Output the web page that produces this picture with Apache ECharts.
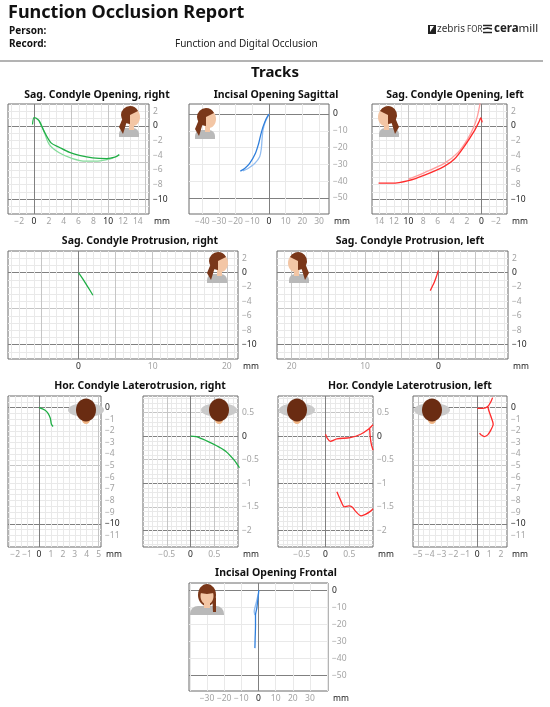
<!DOCTYPE html>
<html>
<head>
<meta charset="utf-8">
<script src="https://cdn.jsdelivr.net/npm/echarts@6/dist/echarts.min.js"></script>
<style>
html, body { margin: 0; padding: 0; background: #fff; }
#report { width: 550px; height: 707px; }
</style>
</head>
<body>
<div id="report"></div>
<script>
// ---- track data, [x mm, y mm] ----
var sagOpenRightA = [[-0.2,0.2],[0,1.15],[0.25,1.1],[0.7,0.7],[1.35,-0.7],[2.3,-2.3],[3.4,-2.9],[4.8,-3.6],[6.1,-4.0],[7.9,-4.35],[9.8,-4.45],[10.9,-4.25],[11.5,-3.9]];
var sagOpenRightB = [[0.7,0.7],[1.3,-0.6],[2.05,-2.5],[3.4,-3.65],[5.2,-4.45],[7.0,-4.8],[8.4,-4.8],[9.8,-4.6],[10.7,-4.35]];
var incSagA = [[0,0],[-1.6,-2.6],[-3.6,-7.6],[-5,-12.5],[-6.2,-17.5],[-8.2,-23.5],[-11.6,-29.4],[-14.6,-32.4],[-17.2,-34]];
var incSagB = [[0,0],[-2.2,-4.6],[-3.6,-9.5],[-4.2,-15.5],[-4.6,-20.5],[-5.6,-25.4],[-8.6,-29.4],[-12.6,-32.4],[-15.6,-33.8]];
var sagOpenLeftA = [[14.1,-7.8],[12.3,-7.8],[10,-7.45],[7.8,-6.7],[5.1,-5.5],[3.7,-4.5],[2.3,-2.7],[1.0,-0.7],[0.3,0.65],[0.1,1.1],[-0.1,0.5]];
var sagOpenLeftB = [[10,-7.25],[7.8,-6.35],[5.1,-5.1],[3.2,-3.6],[1.9,-1.8],[1.0,0],[0.55,1.35],[0.3,2.5],[0.2,3.1]];
var sagProtRight = [[0,0],[0.6,-0.9],[1.3,-2.05],[1.95,-3.15]];
var sagProtLeft = [[0,0.3],[0.23,-0.45],[0.55,-1.35],[1.1,-2.5]];
var latRightA = [[0,0],[0.48,-0.2],[0.76,-0.49],[0.95,-0.92],[1.04,-1.43],[1.18,-1.63]];
var latRightB = [[0,0],[0.12,-0.01],[0.34,-0.1],[0.56,-0.21],[0.74,-0.32],[0.92,-0.51],[1.03,-0.67]];
var latLeftA1 = [[0,0.04],[0.04,-0.05],[0.1,-0.11],[0.24,-0.06],[0.52,-0.03],[0.74,0.04],[0.91,0.15],[1.0,0.24]];
var latLeftA2 = [[0.93,0.16],[0.94,0.0],[0.96,-0.15],[1.0,-0.3]];
var latLeftA3 = [[0.24,-1.18],[0.31,-1.34],[0.4,-1.5],[0.49,-1.48],[0.56,-1.5],[0.63,-1.59],[0.75,-1.69],[0.84,-1.66],[0.95,-1.59],[1.0,-1.54]];
var latLeftB1 = [[0,-0.06],[0.47,-0.06],[0.88,0.09],[1.15,0.52],[1.29,0.86]];
var latLeftB2 = [[0.88,0.09],[1.0,-0.34],[1.15,-0.77],[1.34,-1.43],[1.15,-1.92],[0.88,-2.35],[0.6,-2.49],[0.33,-2.35],[0.19,-2.2]];
var incFrontA = [[0.2,0.4],[0,-1.6],[-0.4,-5.5],[-1,-10.4],[-1.75,-14.3],[-1.75,-21],[-1.95,-28],[-2.1,-33.8]];
var incFrontB = [[0,-1.6],[-1.4,-7.4],[-2.5,-12.3],[-2.1,-14.3]];

// ---- tick labels ----
var ticksSagX = [-2,0,2,4,6,8,10,12,14];
var ticksSagY = [2,0,-2,-4,-6,-8,-10];
var ticksIncX = [-40,-30,-20,-10,0,10,20,30];
var ticksIncY = [0,-10,-20,-30,-40,-50];
var ticksFrontX = [-30,-20,-10,0,10,20,30];
var ticksProtX = [0,10,20];
var ticksLatRX = [-2,-1,0,1,2,3,4,5];
var ticksLatLX = [-5,-4,-3,-2,-1,0,1,2];
var ticksLatY = [0,-1,-2,-3,-4,-5,-6,-7,-8,-9,-10,-11];
var ticksFineX = [-0.5,0,0.5];
var ticksFineY = [0.5,0,-0.5,-1,-1.5,-2];

var FONT = '"Noto Sans", "Open Sans", sans-serif';
var GREEN = '#1fae45', GREEN_L = '#86dc9c';
var RED = '#ff2b2b', RED_L = '#ff9c9c';
var BLUE = '#2f7fdc', BLUE_L = '#93bdf0';

var sagY = {min: -12, max: 3, step: 1, minor: 1, mid: 5, dark: [0, -10], labels: ticksSagY, bold: [0, -10]};
var latY = {min: -12, max: 1, step: 0.5, minor: 0.5, mid: 5, dark: [0, -10], labels: ticksLatY, bold: [0, -10]};
var fineY = {min: -2.35, max: 0.85, step: 0.05, minor: 0.1, mid: 0.5, dark: [0, -1, -2], labels: ticksFineY, bold: [0]};

var panels = [
    {box: [8, 104, 141, 110], lines: [[sagOpenRightB, GREEN_L], [sagOpenRightA, GREEN]],
     x: {min: -3.5, max: 15.5, step: 0.5, minor: 1, mid: 5, dark: [0], labels: ticksSagX, bold: [0, 10]}, y: sagY},
    {box: [189, 104, 140, 110], lines: [[incSagB, BLUE_L], [incSagA, BLUE]],
     x: {min: -48, max: 36, step: 1, minor: 10, mid: 0, dark: [0], labels: ticksIncX, bold: [0]},
     y: {min: -59.5, max: 6, step: 0.5, minor: 10, mid: 0, dark: [0, -50], labels: ticksIncY, bold: [0]}},
    {box: [372, 104, 135, 110], lines: [[sagOpenLeftB, RED_L], [sagOpenLeftA, RED]],
     x: {min: -3.5, max: 15, step: 0.5, minor: 1, mid: 5, dark: [0], labels: ticksSagX, bold: [0, 10], inverse: true}, y: sagY},
    {box: [8, 251, 230, 108], lines: [[sagProtRight, GREEN]],
     x: {min: -9.5, max: 21.5, step: 0.5, minor: 1, mid: 5, dark: [0], labels: ticksProtX, bold: [0]}, y: sagY},
    {box: [277, 251, 231, 108], lines: [[sagProtLeft, RED]],
     x: {min: -9.5, max: 22, step: 0.5, minor: 1, mid: 5, dark: [0], labels: ticksProtX, bold: [0], inverse: true}, y: sagY},
    {box: [8, 396, 93, 151], lines: [[latRightA, GREEN]],
     x: {min: -2.6, max: 5.2, step: 0.1, minor: 0.5, mid: 5, dark: [0], labels: ticksLatRX, bold: [0]}, y: latY},
    {box: [143, 396, 95, 151], lines: [[latRightB, GREEN]],
     x: {min: -1, max: 1, step: 0.1, minor: 0.1, mid: 0.5, dark: [0], labels: ticksFineX, bold: [0]}, y: fineY},
    {box: [278, 396, 95, 151], lines: [[latLeftA1, RED], [latLeftA2, RED], [latLeftA3, RED]],
     x: {min: -1, max: 1, step: 0.1, minor: 0.1, mid: 0.5, dark: [0], labels: ticksFineX, bold: [0]}, y: fineY},
    {box: [413, 396, 94, 151], lines: [[latLeftB1, RED], [latLeftB2, RED]],
     x: {min: -5.4, max: 2.5, step: 0.1, minor: 0.5, mid: 5, dark: [0], labels: ticksLatLX, bold: [0]}, y: latY},
    {box: [189, 583, 139, 108], lines: [[incFrontB, BLUE_L], [incFrontA, BLUE]],
     x: {min: -40.5, max: 40.5, step: 0.5, minor: 10, mid: 0, dark: [0], labels: ticksFrontX, bold: [0]},
     y: {min: -59, max: 4.5, step: 0.5, minor: 10, mid: 0, dark: [0, -50], labels: ticksIncY, bold: [0]}}
];

var titles = [
    ['Sag. Condyle Opening, right', 97, 95], ['Incisal Opening Sagittal', 276, 95],
    ['Sag. Condyle Opening, left', 455, 95], ['Sag. Condyle Protrusion, right', 140, 241],
    ['Sag. Condyle Protrusion, left', 410, 241], ['Hor. Condyle Laterotrusion, right', 140, 386],
    ['Hor. Condyle Laterotrusion, left', 410, 386], ['Incisal Opening Frontal', 276, 573]
];

function near(a, b) { return Math.abs(a - b) < 1e-6; }
function inList(v, list) {
    for (var i = 0; i < list.length; i++) { if (near(v, list[i])) return true; }
    return false;
}
function isMult(v, m) { if (!m) return false; var r = v / m; return Math.abs(r - Math.round(r)) < 1e-4; }

// one colour per tick (ticks start at min), millimetre paper look
function splitColors(ax) {
    var n = Math.round((ax.max - ax.min) / ax.step), out = [];
    for (var i = 0; i <= n; i++) {
        var v = ax.min + i * ax.step, c = 'rgba(0,0,0,0)';
        if (i > 0 && i < n) {
            if (inList(v, ax.dark)) c = '#808080';
            else if (isMult(v, ax.mid)) c = '#c6c6c6';
            else if (isMult(v, ax.minor)) c = '#e9e9e9';
        }
        out.push(c);
    }
    return out;
}
function labelFormatter(ax) {
    return function (v) {
        if (!inList(v, ax.labels)) return '';
        var s = String(Math.round(v * 100) / 100).replace('-', '\u2212');
        return inList(v, ax.bold) ? '{b|' + s + '}' : '{g|' + s + '}';
    };
}
function makeAxis(ax, gi, isX) {
    var a = {
        type: 'value', gridIndex: gi, min: ax.min, max: ax.max, interval: ax.step,
        inverse: !!ax.inverse, position: isX ? 'bottom' : 'right',
        axisLine: {show: false, onZero: false}, axisTick: {show: false},
        axisLabel: {
            margin: isX ? 3 : 4, formatter: labelFormatter(ax),
            rich: {
                b: {color: '#1a1a1a', fontSize: 8.5, fontFamily: FONT},
                g: {color: '#a3a3a3', fontSize: 8.5, fontFamily: FONT}
            }
        },
        splitLine: {show: true, lineStyle: {color: splitColors(ax), width: 1}}
    };
    if (isX) {
        a.name = 'mm';
        a.nameLocation = ax.inverse ? 'start' : 'end';
        a.nameGap = 5;
        a.nameTextStyle = {color: '#1a1a1a', fontSize: 8.5, fontFamily: FONT, verticalAlign: 'top', align: 'left', padding: [3, 0, 0, 0]};
    }
    return a;
}

// ---- little head pictograms ----
var SKIN = '#f3c6a5', HAIR = '#7a3719', CLOTH = '#b9b9b9';
function sideHead(x, y, faceLeft) {
    var s = faceLeft ? -1 : 1, c = x + 12;
    function px(d) { return c + s * d; }
    var a0 = faceLeft ? -0.85 * Math.PI : 0.5 * Math.PI;
    var a1 = faceLeft ? 0.5 * Math.PI : 1.85 * Math.PI;
    return {type: 'group', silent: true, z: 50, children: [
        {type: 'rect', z: 50, shape: {x: c - 10, y: y + 23, width: 20, height: 9, r: [6, 6, 0, 0]}, style: {fill: CLOTH}},
        {type: 'rect', z: 50, shape: {x: Math.min(px(0), px(5)), y: y + 15, width: 5, height: 10}, style: {fill: SKIN}},
        {type: 'polygon', z: 50, shape: {points: [[px(-5), y + 10], [px(-10), y + 22], [px(-6), y + 29], [px(-2), y + 16]]}, style: {fill: HAIR}},
        {type: 'ellipse', z: 50, shape: {cx: px(4), cy: y + 12, rx: 7, ry: 9}, style: {fill: SKIN}},
        {type: 'sector', z: 50, shape: {cx: px(1), cy: y + 10, r: 9, startAngle: a0, endAngle: a1, clockwise: true}, style: {fill: HAIR}}
    ]};
}
function topHead(cx, cy) {
    return {type: 'group', silent: true, z: 50, children: [
        {type: 'ellipse', z: 50, shape: {cx: cx, cy: cy, rx: 18, ry: 7}, style: {fill: '#cacaca'}},
        {type: 'ellipse', z: 50, shape: {cx: cx, cy: cy + 10, rx: 4, ry: 4}, style: {fill: '#f0b584'}},
        {type: 'ellipse', z: 50, shape: {cx: cx, cy: cy, rx: 10, ry: 11.5}, style: {fill: '#6a2c12'}}
    ]};
}
function frontHead(cx, y) {
    return {type: 'group', silent: true, z: 50, children: [
        {type: 'rect', z: 50, shape: {x: cx - 17, y: y + 22, width: 34, height: 9, r: [8, 8, 0, 0]}, style: {fill: CLOTH}},
        {type: 'ellipse', z: 50, shape: {cx: cx, cy: y + 11, rx: 9, ry: 11}, style: {fill: HAIR}},
        {type: 'polygon', z: 50, shape: {points: [[cx + 5, y + 10], [cx + 9, y + 14], [cx + 9, y + 28], [cx + 6, y + 28]]}, style: {fill: HAIR}},
        {type: 'rect', z: 50, shape: {x: cx - 3, y: y + 16, width: 6, height: 8}, style: {fill: SKIN}},
        {type: 'ellipse', z: 50, shape: {cx: cx, cy: y + 12, rx: 6.5, ry: 8.5}, style: {fill: SKIN}},
        {type: 'sector', z: 50, shape: {cx: cx, cy: y + 10, r: 8.5, startAngle: 1.05 * Math.PI, endAngle: 1.95 * Math.PI}, style: {fill: HAIR}}
    ]};
}

var grids = [], xAxes = [], yAxes = [], series = [];
panels.forEach(function (p, gi) {
    grids.push({left: p.box[0], top: p.box[1], width: p.box[2], height: p.box[3],
        show: true, borderColor: '#6a6a6a', borderWidth: 1, backgroundColor: '#fff'});
    xAxes.push(makeAxis(p.x, gi, true));
    yAxes.push(makeAxis(p.y, gi, false));
    p.lines.forEach(function (l) {
        series.push({type: 'line', xAxisIndex: gi, yAxisIndex: gi, data: l[0], symbol: 'none',
            smooth: 0.3, silent: true, z: 5, lineStyle: {color: l[1], width: 1.3}, itemStyle: {color: l[1]}});
    });
});

var graphics = [
    {type: 'text', x: 8, y: 13, style: {text: 'Function Occlusion Report', font: 'bold 18px ' + FONT, fill: '#111', verticalAlign: 'middle'}},
    {type: 'text', x: 9, y: 31, style: {text: 'Person:', font: 'bold 10px ' + FONT, fill: '#111', verticalAlign: 'middle'}},
    {type: 'text', x: 9, y: 44, style: {text: 'Record:', font: 'bold 10px ' + FONT, fill: '#111', verticalAlign: 'middle'}},
    {type: 'text', x: 175, y: 44, style: {text: 'Function and Digital Occlusion', font: '10px ' + FONT, fill: '#222', verticalAlign: 'middle'}},
    {type: 'line', shape: {x1: 0, y1: 61, x2: 543, y2: 61}, style: {stroke: '#9a9a9a', lineWidth: 1.5}},
    {type: 'text', x: 275, y: 73, style: {text: 'Tracks', font: 'bold 15px ' + FONT, fill: '#111', align: 'center', verticalAlign: 'middle'}},
    // zebris FOR ceramill
    {type: 'polygon', shape: {points: [[428, 25], [436, 25], [436, 34], [428, 34]]}, style: {fill: '#222'}},
    {type: 'polygon', shape: {points: [[430, 26], [434, 26], [430, 32]]}, style: {fill: '#fff'}},
    {type: 'text', x: 437, y: 29.5, style: {text: 'zebris', font: '10px ' + FONT, fill: '#333', verticalAlign: 'middle'}},
    {type: 'text', x: 467, y: 30, style: {text: 'FOR', font: '8px ' + FONT, fill: '#333', verticalAlign: 'middle'}},
    {type: 'polyline', shape: {points: [[483, 25.5], [492, 25.5]]}, style: {stroke: '#222', lineWidth: 1.5}},
    {type: 'polyline', shape: {points: [[483, 29], [487.5, 28], [492, 29]]}, style: {stroke: '#222', lineWidth: 1.5}},
    {type: 'polyline', shape: {points: [[483, 32.5], [492, 32.5]]}, style: {stroke: '#222', lineWidth: 1.5}},
    {type: 'text', x: 494, y: 29, style: {text: '{c|cera}{m|mill}', verticalAlign: 'middle',
        rich: {c: {fontSize: 11.5, fontWeight: 'bold', fontFamily: FONT, fill: '#222', color: '#222'},
               m: {fontSize: 11.5, fontFamily: FONT, fill: '#222', color: '#222'}}}},
    sideHead(117, 105, false), sideHead(193, 107, false), sideHead(377, 105, true),
    sideHead(205, 251, false), sideHead(287, 251, true),
    topHead(86, 410), topHead(219, 410), topHead(297, 410), topHead(432, 410),
    frontHead(207, 584)
];
titles.forEach(function (t) {
    graphics.push({type: 'text', x: t[1], y: t[2], style: {text: t[0], font: 'bold 10.5px ' + FONT, fill: '#111', align: 'center', verticalAlign: 'middle'}});
});

var myChart = echarts.init(document.getElementById('report'));
myChart.setOption({
    animation: false,
    backgroundColor: '#fff',
    grid: grids,
    xAxis: xAxes,
    yAxis: yAxes,
    series: series,
    graphic: {elements: graphics}
});
</script>
</body>
</html>
